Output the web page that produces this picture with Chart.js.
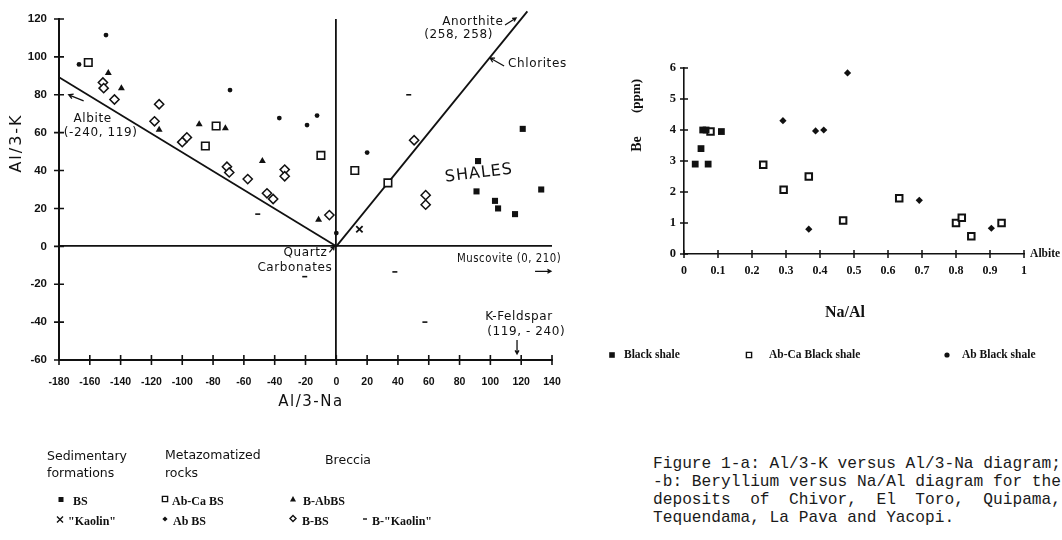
<!DOCTYPE html>
<html>
<head>
<meta charset="utf-8">
<script src="https://cdn.jsdelivr.net/npm/chart.js@4.4.1/dist/chart.umd.min.js"></script>
<style>
  html, body { margin: 0; padding: 0; background: #fff; }
  body { width: 1062px; height: 540px; position: relative; overflow: hidden; }
  #figA { position: absolute; left: 0; top: 0; }
  #figB { position: absolute; left: 590px; top: 0; }
  #caption { position: absolute; left: 653px; top: 455px; margin: 0;
    font: 16.2px/18px "Liberation Mono", "DejaVu Sans Mono", monospace; color: #1a1a1a; white-space: pre; }
</style>
</head>
<body>
<canvas id="figA" width="600" height="540"></canvas>
<canvas id="figB" width="472" height="390"></canvas>
<pre id="caption">Figure 1-a: Al/3-K versus Al/3-Na diagram;
-b: Beryllium versus Na/Al diagram for the
deposits  of  Chivor,  El  Toro,  Quipama,
Tequendama, La Pava and Yacopi.</pre>
<script>
// Fig 1-a : Al/3-K versus Al/3-Na  ([x, y] pairs)
const bsPts      = [[121, 62], [92, 45], [91, 29], [103, 24], [105, 20], [116, 17], [133, 30]];
const kaolinPts  = [[15, 9]];
const abCaBsPts  = [[-161, 97], [-78, 63.5], [-85, 53], [-10, 48], [12, 40], [33.5, 33.5]];
const abBsPts    = [[-167, 96], [-149.5, 111.5], [-69, 82.5], [-37, 67.7], [-19, 64], [-12.5, 69],
                    [20, 49.5], [0, 7], [142.5, 57]];
const bAbBsPts   = [[-148, 91.5], [-139.5, 83.5], [-115, 61.5], [-89, 64.5], [-72, 62.3], [-48, 45], [-11.5, 14]];
const bBsPts     = [[-151.5, 86.5], [-151, 83.5], [-144, 77.5], [-115, 75], [-118, 66], [-97, 57.5],
                    [-100, 55], [-71, 42], [-69.5, 39], [-57.5, 35.5], [-45, 28], [-41, 25],
                    [-33.5, 40.5], [-33.5, 37], [-4.5, 16.5], [50.5, 56], [58, 27], [58, 22]];
const bKaolinPts = [[-51, 17], [47, 80], [-20.5, -16], [38, -13.5], [57.5, -40]];
const albiteLine    = [[-180, 89.25], [0, 0]];     // towards Albite (-240, 119)
const anorthiteLine = [[0, 0], [124, 124]];        // towards Anorthite (258, 258)

const alNaTicks  = [-180, -160, -140, -120, -100, -80, -60, -40, -20, 0, 20, 40, 60, 80, 100, 120, 140];
const alNaLabels = ['-180', '-160', '-140', '-120', '-100', '-80', '-60', '-40', '-20', '0',
                    '20', '40', '60', '80', '100', '120', '140'];
const alKTicks   = [-60, -40, -20, 0, 20, 40, 60, 80, 100, 120];
const alKLabels  = ['-60', '-40', '-20', '0', '20', '40', '60', '80', '100', '120'];

// Fig 1-b : Be (ppm) versus Na/Al
const naBlack = [0.033, 0.05, 0.071, 0.055, 0.065, 0.11];
const beBlack = [2.9, 3.4, 2.9, 4.0, 4.0, 3.95];
const naAbCa  = [0.078, 0.233, 0.293, 0.367, 0.468, 0.633, 0.80, 0.817, 0.845, 0.934];
const beAbCa  = [3.95, 2.88, 2.07, 2.5, 1.08, 1.8, 1.0, 1.17, 0.57, 1.0];
const naAb    = [0.291, 0.367, 0.387, 0.411, 0.481, 0.692, 0.904];
const beAb    = [4.3, 0.8, 3.97, 4.0, 5.84, 1.73, 0.83];

const naTicks  = [0, 0.1, 0.2, 0.3, 0.4, 0.5, 0.6, 0.7, 0.8, 0.9, 1];
const naLabels = ['0', '0.1', '0.2', '0.3', '0.4', '0.5', '0.6', '0.7', '0.8', '0.9', '1'];
const beTicks  = [0, 1, 2, 3, 4, 5, 6];
const beLabels = ['0', '1', '2', '3', '4', '5', '6'];

const INK = '#111';
const SANS = '"DejaVu Sans", "Liberation Sans", sans-serif';
const ARIAL = '"Liberation Sans", Arial, sans-serif';
const SERIF = '"Liberation Serif", "Times New Roman", serif';

const xy = pts => pts.map(p => ({ x: p[0], y: p[1] }));
const zipXY = (xs, ys) => xs.map((x, i) => ({ x, y: ys[i] }));

function label(ctx, s, x, y, font, align, extra) {
  extra = extra || {};
  ctx.save();
  ctx.font = font;
  ctx.fillStyle = INK;
  ctx.textAlign = align || 'left';
  ctx.textBaseline = 'middle';
  if (extra.spacing) ctx.letterSpacing = extra.spacing;
  ctx.translate(x, y);
  if (extra.rot) ctx.rotate(extra.rot);
  ctx.fillText(s, 0, 0, extra.maxW);
  ctx.restore();
}

function arrow(ctx, a, b, head) {
  const ang = Math.atan2(b[1] - a[1], b[0] - a[0]);
  ctx.beginPath();
  ctx.moveTo(a[0], a[1]);
  ctx.lineTo(b[0], b[1]);
  ctx.moveTo(b[0] - head * Math.cos(ang - 0.5), b[1] - head * Math.sin(ang - 0.5));
  ctx.lineTo(b[0], b[1]);
  ctx.lineTo(b[0] - head * Math.cos(ang + 0.5), b[1] - head * Math.sin(ang + 0.5));
  ctx.stroke();
}

function drawMark(ctx, kind, x, y, r) {
  ctx.save();
  ctx.fillStyle = INK;
  ctx.strokeStyle = INK;
  ctx.lineWidth = 1.4;
  ctx.beginPath();
  if (kind === 'sq') { ctx.rect(x - r, y - r, 2 * r, 2 * r); ctx.fill(); }
  else if (kind === 'osq') { ctx.rect(x - r, y - r, 2 * r, 2 * r); ctx.stroke(); }
  else if (kind === 'tri') { ctx.moveTo(x, y - r); ctx.lineTo(x + r, y + r * 0.8); ctx.lineTo(x - r, y + r * 0.8); ctx.closePath(); ctx.fill(); }
  else if (kind === 'dia') { ctx.moveTo(x, y - r); ctx.lineTo(x + r, y); ctx.lineTo(x, y + r); ctx.lineTo(x - r, y); ctx.closePath(); ctx.fill(); }
  else if (kind === 'odia') { ctx.moveTo(x, y - r); ctx.lineTo(x + r, y); ctx.lineTo(x, y + r); ctx.lineTo(x - r, y); ctx.closePath(); ctx.stroke(); }
  else if (kind === 'x') { ctx.moveTo(x - r, y - r); ctx.lineTo(x + r, y + r); ctx.moveTo(x + r, y - r); ctx.lineTo(x - r, y + r); ctx.stroke(); }
  else if (kind === 'dash') { ctx.moveTo(x - r, y); ctx.lineTo(x + r, y); ctx.stroke(); }
  else if (kind === 'dot') { ctx.arc(x, y, r, 0, Math.PI * 2); ctx.fill(); }
  ctx.restore();
}

// ticks that cross the axis line, like the original plot
const crossTicks = {
  id: 'crossTicks',
  afterDraw(chart, args, opts) {
    const { ctx } = chart, xs = chart.scales.x, ys = chart.scales.y;
    ctx.save();
    ctx.strokeStyle = INK;
    ctx.lineWidth = opts.width;
    ctx.beginPath();
    xs.ticks.forEach(t => {
      const px = xs.getPixelForValue(t.value);
      ctx.moveTo(px, ys.bottom - opts.len);
      ctx.lineTo(px, ys.bottom + opts.len);
    });
    ys.ticks.forEach(t => {
      const py = ys.getPixelForValue(t.value);
      ctx.moveTo(xs.left - opts.len, py);
      ctx.lineTo(xs.left + opts.len, py);
    });
    ctx.stroke();
    ctx.restore();
  }
};

const notesA = {
  id: 'notesA',
  afterDraw(chart) {
    const { ctx } = chart, xs = chart.scales.x, ys = chart.scales.y;
    const P = (x, y) => [xs.getPixelForValue(x), ys.getPixelForValue(y)];
    const f = '12px ' + SANS;
    const sp = { spacing: '0.6px' };
    const put = (s, x, y, align, extra) => { const p = P(x, y); label(ctx, s, p[0], p[1], f, align, extra || sp); };

    put('Albite', -170.6, 67.3);
    put('(-240, 119)', -176.9, 60);
    put('Anorthite', 68.7, 118.4);
    put('(258, 258)', 57, 111.5);
    put('Chlorites', 111.5, 96.3);
    put('Quartz', -5.8, -3.7, 'right');
    put('Carbonates', -2.6, -11.6, 'right');
    put('Muscovite (0, 210)', 78.4, -6.8, 'left', { spacing: '0.6px', maxW: 104 });
    put('K-Feldspar', 96.6, -37.3);
    put('(119, - 240)', 97.9, -45.2);
    const s = P(70.6, 36.3);
    label(ctx, 'SHALES', s[0], s[1], '16px ' + SANS, 'left', { spacing: '1px', rot: -0.12 });

    ctx.save();
    ctx.strokeStyle = INK;
    ctx.lineWidth = 1.3;
    arrow(ctx, P(-164, 76.8), P(-173.7, 80), 5);
    arrow(ctx, P(109.5, 116.8), P(116.7, 120.5), 4);
    arrow(ctx, P(108.9, 95.2), P(99.8, 99.4), 5);
    arrow(ctx, P(-4.5, -3.2), P(-1.3, 0), 4);
    arrow(ctx, P(129, -13.2), P(139.3, -13.2), 4);
    arrow(ctx, P(117.3, -49.4), P(117.3, -56.8), 4);
    ctx.restore();

    // axis titles
    label(ctx, 'Al/3-K', 17, 143, '16px ' + SANS, 'center', { spacing: '2px', rot: -Math.PI / 2 });
    label(ctx, 'Al/3-Na', 311, 402, '15px ' + SANS, 'center', { spacing: '1.5px' });

    // grouped legend
    const hf = '12.5px ' + SANS, itf = 'bold 12px ' + SERIF;
    label(ctx, 'Sedimentary', 47, 457, hf);
    label(ctx, 'formations', 47, 474, hf);
    label(ctx, 'Metazomatized', 165, 456, hf);
    label(ctx, 'rocks', 165, 474, hf);
    label(ctx, 'Breccia', 325, 461, hf);

    drawMark(ctx, 'sq', 61, 499.5, 2.5);   label(ctx, 'BS', 73, 501.5, itf);
    drawMark(ctx, 'osq', 165, 499, 2.6);  label(ctx, 'Ab-Ca BS', 172, 501.5, itf);
    drawMark(ctx, 'tri', 293, 499, 3);    label(ctx, 'B-AbBS', 303, 501.5, itf);
    drawMark(ctx, 'x', 60, 519.5, 3);     label(ctx, '"Kaolin"', 68, 521.5, itf);
    drawMark(ctx, 'dia', 165, 519, 2.6);  label(ctx, 'Ab BS', 173, 521.5, itf);
    drawMark(ctx, 'odia', 293, 518.5, 3); label(ctx, 'B-BS', 302, 521.5, itf);
    drawMark(ctx, 'dash', 365, 519, 2);   label(ctx, 'B-"Kaolin"', 372, 521.5, itf);
  }
};

const notesB = {
  id: 'notesB',
  afterDraw(chart) {
    const { ctx } = chart, xs = chart.scales.x, ys = chart.scales.y;
    const f = 'bold 11.5px ' + SERIF;
    label(ctx, 'Albite', xs.getPixelForValue(1.018), ys.getPixelForValue(0), f);
    label(ctx, 'Be', 47, 144, 'bold 14px ' + SERIF, 'center', { rot: -Math.PI / 2 });
    label(ctx, '(ppm)', 47, 96, 'bold 13px ' + SERIF, 'center', { rot: -Math.PI / 2 });
    label(ctx, 'Na/Al', 255, 313, 'bold 16px ' + SERIF, 'center');

    drawMark(ctx, 'sq', 22, 355, 2.8);   label(ctx, 'Black shale', 34, 355, f);
    drawMark(ctx, 'osq', 159, 355, 2.6); label(ctx, 'Ab-Ca Black shale', 179, 355, f);
    drawMark(ctx, 'dot', 357, 355, 2.6); label(ctx, 'Ab Black shale', 372, 355, f);
  }
};

function pointSet(lbl, data, style, r, fill, line, bw) {
  return {
    label: lbl, data, pointStyle: style, pointRadius: r, pointHoverRadius: r,
    pointBackgroundColor: fill, pointBorderColor: line, pointBorderWidth: bw, clip: false
  };
}

function lineSet(lbl, pts) {
  return {
    label: lbl, data: xy(pts), showLine: true, pointRadius: 0, borderColor: INK,
    borderWidth: 1.8, fill: false, clip: false
  };
}

function fixedScale(ticks, labels, size, font, padding, extra) {
  return Object.assign({
    type: 'linear',
    min: ticks[0],
    max: ticks[ticks.length - 1],
    afterBuildTicks: s => { s.ticks = ticks.map(v => ({ value: v })); },
    afterFit: s => {
      if (s.isHorizontal()) { s.height = size; s.paddingLeft = 0; s.paddingRight = 0; }
      else { s.width = size; s.paddingTop = 0; s.paddingBottom = 0; }
    },
    ticks: {
      callback: v => labels[ticks.indexOf(v)],
      font, color: INK, padding, maxRotation: 0, autoSkip: false
    },
    grid: { display: false, drawTicks: false },
    border: { display: true, color: INK, width: 2 }
  }, extra || {});
}

const zeroLine = {
  display: true, drawTicks: false, lineWidth: 1.8,
  color: c => (c.tick && c.tick.value === 0) ? INK : 'rgba(0,0,0,0)'
};

new Chart(document.getElementById('figA'), {
  type: 'scatter',
  data: {
    datasets: [
      pointSet('BS', xy(bsPts), 'rect', 4.3, INK, INK, 0),
      pointSet('"Kaolin"', xy(kaolinPts), 'crossRot', 4.5, INK, INK, 1.8),
      pointSet('Ab-Ca BS', xy(abCaBsPts), 'rect', 5.3, '#fff', INK, 1.6),
      pointSet('Ab BS', xy(abBsPts), 'circle', 2.4, INK, INK, 0),
      pointSet('B-AbBS', xy(bAbBsPts), 'triangle', 4, INK, INK, 0),
      pointSet('B-BS', xy(bBsPts), 'rectRot', 4.6, '#fff', INK, 1.5),
      pointSet('B-"Kaolin"', xy(bKaolinPts), 'line', 2.5, INK, INK, 1.6),
      lineSet('Albite', albiteLine),
      lineSet('Anorthite', anorthiteLine)
    ]
  },
  options: {
    responsive: false,
    animation: false,
    events: [],
    layout: { padding: { left: 0, top: 19, right: 48, bottom: 140 } },
    plugins: { legend: { display: false }, tooltip: { enabled: false }, crossTicks: { len: 5, width: 1.6 } },
    scales: {
      x: fixedScale(alNaTicks, alNaLabels, 40, { family: ARIAL, weight: 'bold', size: 10.5 }, 16, { grid: zeroLine }),
      y: fixedScale(alKTicks, alKLabels, 59, { family: ARIAL, weight: 'bold', size: 11.5 }, 12, { grid: zeroLine })
    }
  },
  plugins: [crossTicks, notesA]
});

new Chart(document.getElementById('figB'), {
  type: 'scatter',
  data: {
    datasets: [
      pointSet('Black shale', zipXY(naBlack, beBlack), 'rect', 4.8, INK, INK, 0),
      pointSet('Ab-Ca Black shale', zipXY(naAbCa, beAbCa), 'rect', 4.6, '#fff', INK, 2),
      pointSet('Ab Black shale', zipXY(naAb, beAb), 'rectRot', 3.6, INK, INK, 0)
    ]
  },
  options: {
    responsive: false,
    animation: false,
    events: [],
    layout: { padding: { left: 0, top: 68, right: 38, bottom: 96 } },
    plugins: { legend: { display: false }, tooltip: { enabled: false }, crossTicks: { len: 4, width: 1.5 } },
    scales: {
      x: fixedScale(naTicks, naLabels, 40, { family: SERIF, weight: 'bold', size: 12 }, 10,
        { border: { display: true, color: INK, width: 1.6 } }),
      y: fixedScale(beTicks, beLabels, 94, { family: SERIF, weight: 'bold', size: 12.5 }, 8,
        { border: { display: true, color: INK, width: 1.6 } })
    }
  },
  plugins: [crossTicks, notesB]
});
</script>
</body>
</html>
